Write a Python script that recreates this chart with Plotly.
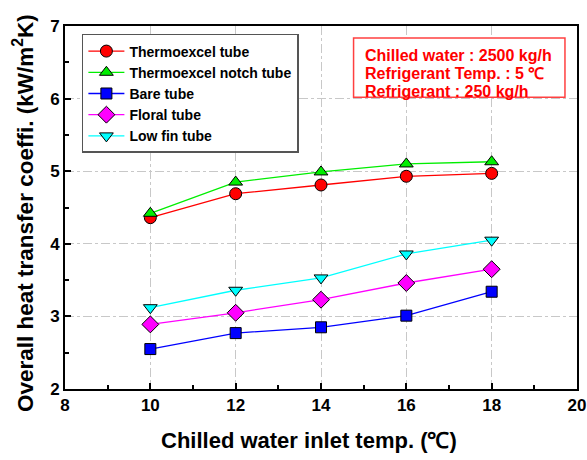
import plotly.graph_objects as go

temps = [10, 12, 14, 16, 18]
thermoexcel = [4.36, 4.69, 4.81, 4.93, 4.97]
thermoexcel_notch = [4.42, 4.85, 4.99, 5.10, 5.13]
bare = [2.55, 2.77, 2.85, 3.01, 3.34]
floral = [2.89, 3.05, 3.23, 3.46, 3.65]
low_fin = [3.12, 3.36, 3.53, 3.86, 4.05]

names = ["Thermoexcel tube", "Thermoexcel notch tube", "Bare tube", "Floral tube", "Low fin tube"]
series = [thermoexcel, thermoexcel_notch, bare, floral, low_fin]
colors = ["#ff0000", "#00ee00", "#0000ff", "#ff00ff", "#00ffff"]
symbols = ["circle", "triangle-up", "square", "diamond", "triangle-down"]
sizes = [12, 12, 11, 13, 12]

info_lines = ["Chilled water : 2500 kg/h", "Refrigerant Temp. : 5 ℃", "Refrigerant : 250 kg/h"]

FONT = "Arial, 'Liberation Sans', sans-serif"

fig = go.Figure()
for n, s, c, sym, sz in zip(names, series, colors, symbols, sizes):
    fig.add_trace(go.Scatter(
        x=temps, y=s, name=n, mode="lines+markers",
        line=dict(color=c, width=1.3),
        marker=dict(symbol=sym, size=sz, color=c, line=dict(color="black", width=1)),
    ))

axis_common = dict(
    showline=True, linecolor="black", linewidth=2, mirror=True,
    ticks="inside", ticklen=6, tickwidth=1.5, tickcolor="black",
    showgrid=True, gridcolor="#c8c8c8", griddash="dashdot", gridwidth=1,
    zeroline=False, automargin=False,
    tickfont=dict(family=FONT, size=17, color="black", weight="bold"),
)

fig.update_layout(
    width=587, height=460,
    margin=dict(l=65, r=10, t=26, b=71),
    plot_bgcolor="white", paper_bgcolor="white",
    font=dict(family=FONT, color="black"),
    xaxis=dict(range=[8, 20], dtick=2, tick0=8,
               minor=dict(ticks="inside", ticklen=4, dtick=1, tickcolor="black", showgrid=False),
               **axis_common),
    yaxis=dict(range=[2, 7], dtick=1, tick0=2,
               minor=dict(ticks="inside", ticklen=4, dtick=0.5, tickcolor="black", showgrid=False),
               **axis_common),
    legend=dict(
        x=0.033, y=0.978, xanchor="left", yanchor="top",
        bgcolor="white", bordercolor="#555555", borderwidth=1.5,
        font=dict(family=FONT, size=14, color="black", weight="bold"),
        itemwidth=36, tracegroupgap=0,
    ),
    showlegend=True,
)

# axis titles
fig.add_annotation(
    xref="paper", yref="paper", x=0.4775, y=-0.1405, xanchor="center", yanchor="middle",
    text="Chilled water inlet temp. (℃)", showarrow=False,
    font=dict(family=FONT, size=22, color="black", weight="bold"),
)
fig.add_annotation(
    xref="paper", yref="paper", x=-0.082, y=0.485, xanchor="center", yanchor="middle",
    text="Overall heat transfer coeffi. (kW/m<sup>2</sup>K)", showarrow=False, textangle=-90,
    font=dict(family=FONT, size=22.5, color="black", weight="bold"),
)

# info box
fig.add_shape(
    type="rect", xref="paper", yref="paper", x0=0.5636, x1=0.9765, y0=0.804, y1=0.967,
    line=dict(color="#ff4040", width=1.5), fillcolor="white", layer="above",
)
for line_text, yy in zip(info_lines, [0.918, 0.8685, 0.819]):
    fig.add_annotation(
        xref="paper", yref="paper", x=0.583, y=yy, xanchor="left", yanchor="middle",
        text=line_text, showarrow=False,
        font=dict(family=FONT, size=16, color="#ff0000", weight="bold"),
    )

fig.write_html("out.html")
